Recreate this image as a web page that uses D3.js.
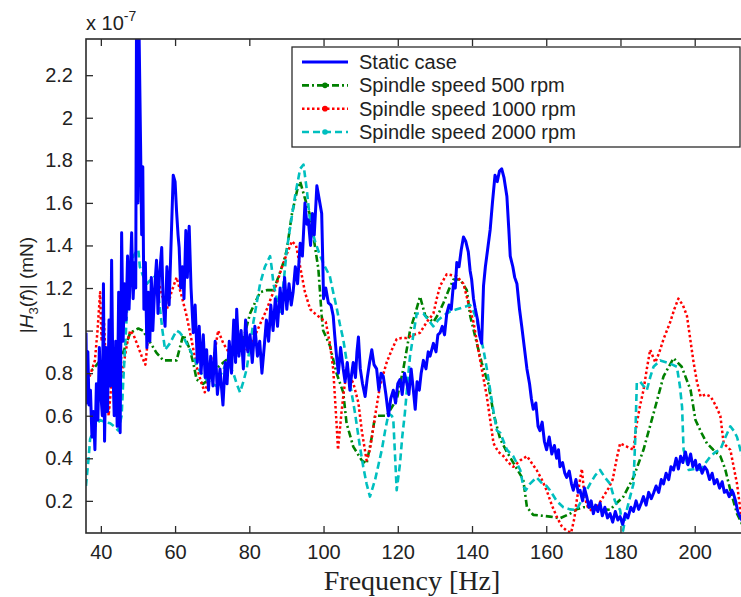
<!DOCTYPE html>
<html>
<head>
<meta charset="utf-8">
<script src="https://cdn.jsdelivr.net/npm/d3@7"></script>
<style>
  body { margin: 0; background: #fff; }
  svg text { font-family: "Liberation Sans", Arial, sans-serif; fill: #222; }
</style>
</head>
<body>
<svg id="chart" width="741" height="597"></svg>
<script>
//----------------------------------------------------------- DATA
// frequency [Hz], |H3(f)| [x 1e-7 m/N]
const freqTicks = [40, 60, 80, 100, 120, 140, 160, 180, 200];
const magTicks = [0.2, 0.4, 0.6, 0.8, 1, 1.2, 1.4, 1.6, 1.8, 2, 2.2];

const seriesNames = ["Static case", "Spindle speed 500 rpm", "Spindle speed 1000 rpm", "Spindle speed 2000 rpm"];

const staticCase = [[36.0,0.99],[36.2,0.66],[36.5,0.90],[36.8,0.65],[37.2,0.72],[37.6,0.50],[38.0,0.62],[38.4,0.44],[38.8,0.75],[39.2,0.58],[39.6,0.92],[40.0,0.70],[40.4,0.60],[40.7,1.22],[41.0,0.48],[41.4,0.92],[41.8,0.62],[42.2,1.05],[42.6,0.74],[42.9,1.33],[43.2,0.85],[43.6,0.60],[44.0,0.95],[44.4,0.55],[44.8,1.18],[45.2,0.52],[45.6,1.46],[46.0,0.95],[46.4,1.22],[46.8,1.05],[47.2,1.35],[47.6,1.10],[48.0,1.30],[48.3,1.46],[48.7,1.15],[49.1,1.32],[49.4,1.20],[49.6,2.40],[50.0,1.60],[50.3,2.40],[50.7,1.88],[51.0,1.45],[51.3,1.77],[51.6,1.10],[52.0,1.32],[52.4,0.92],[52.8,1.18],[53.2,0.95],[53.6,1.25],[54.0,1.00],[54.5,1.20],[55.0,1.33],[55.4,1.08],[55.8,1.26],[56.4,1.39],[56.8,1.12],[57.3,1.02],[57.8,1.30],[58.4,1.12],[59.1,1.51],[59.5,1.73],[60.0,1.70],[60.4,1.56],[60.8,1.45],[61.1,1.39],[61.5,1.20],[62.0,1.30],[62.4,1.15],[62.9,1.47],[63.3,1.25],[63.8,1.49],[64.3,1.20],[64.9,0.99],[65.4,1.12],[66.0,0.85],[66.5,1.02],[67.0,0.80],[67.6,0.98],[68.1,0.78],[68.5,0.91],[69.0,0.72],[69.6,0.88],[70.2,0.74],[70.8,0.95],[71.4,0.70],[72.1,0.82],[72.9,0.65],[73.5,0.85],[74.0,0.75],[74.6,0.95],[75.2,0.80],[75.8,1.05],[76.3,0.85],[76.6,1.10],[77.2,0.88],[77.8,1.00],[78.4,0.82],[79.0,1.05],[79.6,0.90],[80.2,0.98],[80.8,0.85],[81.5,1.02],[82.2,0.88],[82.8,0.95],[83.4,0.80],[84.0,0.92],[84.6,1.05],[85.2,0.95],[85.8,1.12],[86.4,1.00],[87.0,1.15],[87.6,1.02],[88.3,1.20],[88.9,1.08],[89.5,1.25],[90.1,1.10],[90.7,1.22],[91.3,1.12],[91.8,1.18],[92.4,1.30],[93.0,1.22],[93.7,1.41],[94.3,1.35],[95.0,1.60],[95.5,1.50],[95.9,1.52],[96.5,1.40],[97.0,1.55],[97.5,1.45],[98.2,1.68],[98.8,1.62],[99.5,1.55],[99.8,1.32],[100.0,1.15],[100.6,1.20],[101.3,1.13],[102.0,1.12],[102.6,1.07],[103.0,0.98],[103.5,0.88],[104.0,0.80],[104.6,0.92],[105.3,0.82],[105.8,0.76],[106.4,0.85],[107.1,0.72],[107.6,0.80],[108.0,0.85],[108.6,0.78],[109.0,0.90],[109.4,0.97],[109.9,0.82],[110.5,0.75],[111.2,0.69],[111.8,0.78],[112.4,0.85],[113.0,0.91],[113.6,0.84],[114.3,0.82],[114.9,0.72],[115.5,0.80],[116.1,0.785],[116.8,0.70],[117.5,0.60],[118.1,0.68],[118.8,0.72],[119.4,0.66],[120.0,0.75],[120.6,0.77],[121.2,0.70],[121.8,0.80],[122.4,0.755],[123.0,0.70],[123.6,0.82],[124.2,0.72],[124.7,0.63],[125.2,0.76],[125.8,0.72],[126.3,0.80],[126.9,0.86],[127.6,0.82],[128.2,0.90],[128.7,0.88],[129.6,0.94],[130.3,0.90],[130.8,0.98],[131.4,0.99],[132.0,1.02],[132.6,0.98],[133.2,1.08],[133.8,1.12],[134.4,1.10],[135.0,1.22],[135.5,1.20],[135.9,1.32],[136.5,1.30],[137.1,1.38],[137.7,1.44],[138.3,1.42],[139.0,1.37],[139.5,1.28],[139.9,1.24],[140.4,1.15],[140.8,1.11],[141.5,1.05],[142.0,0.98],[142.6,0.94],[143.1,1.21],[143.6,1.30],[144.2,1.38],[144.9,1.475],[145.5,1.60],[146.2,1.73],[146.8,1.70],[147.4,1.75],[148.0,1.76],[148.6,1.72],[149.4,1.63],[149.9,1.48],[150.3,1.35],[151.0,1.30],[151.5,1.25],[152.1,1.22],[152.8,1.10],[153.4,1.02],[154.1,0.92],[154.8,0.82],[155.5,0.75],[156.0,0.68],[156.5,0.63],[157.2,0.66],[157.8,0.55],[158.3,0.53],[158.9,0.57],[159.5,0.48],[160.1,0.44],[160.8,0.50],[161.5,0.42],[162.2,0.46],[162.8,0.40],[163.3,0.44],[163.7,0.36],[164.4,0.38],[165.0,0.33],[165.5,0.31],[166.2,0.34],[166.8,0.28],[167.3,0.25],[168.0,0.30],[168.6,0.24],[169.1,0.25],[169.8,0.20],[170.3,0.26],[170.9,0.22],[171.5,0.17],[172.1,0.20],[172.7,0.14],[173.3,0.18],[173.9,0.15],[174.5,0.19],[175.1,0.13],[175.8,0.17],[176.5,0.12],[177.2,0.14],[177.9,0.10],[178.6,0.15],[179.3,0.11],[179.9,0.126],[180.6,0.09],[181.3,0.14],[182.0,0.12],[182.8,0.17],[183.5,0.15],[184.2,0.20],[184.9,0.16],[185.6,0.19],[186.2,0.22],[186.9,0.18],[187.6,0.24],[188.3,0.21],[188.9,0.236],[189.6,0.27],[190.3,0.24],[191.0,0.30],[191.6,0.28],[192.3,0.33],[193.0,0.30],[193.6,0.36],[194.3,0.345],[195.0,0.40],[195.6,0.35],[196.2,0.41],[196.8,0.38],[197.5,0.43],[198.2,0.37],[198.9,0.42],[199.5,0.36],[200.2,0.39],[200.6,0.345],[201.3,0.37],[202.0,0.33],[202.7,0.36],[203.3,0.345],[204.0,0.30],[204.7,0.33],[205.3,0.28],[206.0,0.30],[206.7,0.26],[207.4,0.29],[208.0,0.24],[208.6,0.25],[209.3,0.22],[210.0,0.25],[210.4,0.236],[211.0,0.20],[211.6,0.15],[212.2,0.126],[213.0,0.10]];

const speed500 = [[36.0,0.78],[36.2,0.80],[38.0,0.82],[39.8,0.86],[41.0,0.83],[42.5,0.84],[44.0,0.82],[45.2,0.86],[46.5,0.92],[47.9,0.99],[49.0,1.00],[50.1,1.01],[51.3,1.00],[52.4,0.97],[53.8,0.93],[55.0,0.895],[56.8,0.86],[58.5,0.86],[60.4,0.86],[61.3,0.92],[62.2,0.98],[63.1,0.95],[64.0,0.91],[65.0,0.84],[65.8,0.77],[67.6,0.75],[69.0,0.77],[70.3,0.80],[71.7,0.83],[73.0,0.85],[74.4,0.87],[75.7,0.88],[77.0,0.92],[78.4,0.96],[79.3,1.02],[80.2,1.08],[81.5,1.13],[82.9,1.18],[84.7,1.19],[86.5,1.19],[87.8,1.25],[89.2,1.32],[90.1,1.38],[91.5,1.55],[92.9,1.66],[93.7,1.70],[95.0,1.62],[96.4,1.54],[97.3,1.44],[98.6,1.29],[99.5,1.07],[99.9,1.00],[101.7,0.93],[103.5,0.80],[105.3,0.71],[106.2,0.565],[108.0,0.455],[110.3,0.39],[111.6,0.375],[113.0,0.50],[113.9,0.60],[115.5,0.60],[117.0,0.60],[118.4,0.64],[119.7,0.675],[121.5,0.82],[123.3,1.00],[124.7,1.08],[126.0,1.16],[127.4,1.07],[129.6,1.04],[131.0,1.08],[132.3,1.13],[133.7,1.19],[135.0,1.24],[136.8,1.24],[138.6,1.19],[139.5,1.07],[141.3,0.94],[142.6,0.85],[144.4,0.75],[145.8,0.61],[147.6,0.49],[149.4,0.43],[151.1,0.38],[153.8,0.30],[154.8,0.17],[156.5,0.134],[159.0,0.13],[161.0,0.126],[163.7,0.118],[166.4,0.14],[168.2,0.16],[170.0,0.17],[172.7,0.17],[175.0,0.16],[177.2,0.158],[179.0,0.19],[180.8,0.22],[183.5,0.31],[186.2,0.44],[188.9,0.61],[191.6,0.785],[194.3,0.87],[196.5,0.83],[198.9,0.72],[200.2,0.58],[201.8,0.52],[203.3,0.47],[205.0,0.44],[206.9,0.41],[208.2,0.35],[209.6,0.25],[211.4,0.14],[212.5,0.10],[213.0,0.08]];

const speed1000 = [[36.0,0.74],[36.2,0.75],[37.3,0.80],[38.4,0.86],[39.1,1.00],[39.8,1.18],[40.2,0.95],[40.7,1.10],[41.2,0.90],[41.6,0.75],[42.1,0.60],[42.7,0.72],[43.4,0.88],[44.3,0.91],[45.0,0.84],[45.6,0.785],[46.5,0.88],[47.2,0.95],[47.9,1.00],[48.8,0.98],[49.7,0.94],[51.0,0.88],[52.0,0.84],[52.8,0.98],[53.7,1.13],[54.6,1.18],[55.5,1.23],[56.6,1.16],[57.8,1.10],[59.0,1.18],[60.4,1.25],[61.8,1.16],[63.1,1.07],[64.5,0.95],[65.8,0.83],[67.0,0.76],[68.0,0.71],[69.2,0.78],[70.3,0.86],[71.6,1.00],[73.0,0.94],[74.4,0.90],[75.7,0.88],[77.0,0.90],[78.4,0.895],[79.8,0.92],[81.1,0.96],[82.9,1.03],[84.7,1.10],[86.0,1.16],[87.4,1.22],[88.8,1.30],[90.1,1.36],[91.5,1.42],[92.6,1.40],[93.7,1.30],[95.0,1.18],[96.4,1.10],[97.7,1.08],[99.1,1.06],[100.6,1.04],[101.7,0.94],[102.6,0.82],[103.2,0.65],[103.5,0.565],[103.9,0.44],[104.8,0.61],[105.5,0.72],[106.2,0.80],[107.1,0.78],[108.0,0.755],[109.4,0.66],[110.3,0.53],[111.6,0.39],[112.5,0.44],[113.9,0.60],[115.2,0.74],[117.0,0.85],[118.4,0.91],[119.7,0.96],[121.0,0.965],[122.4,0.965],[124.2,0.98],[126.0,0.99],[127.8,1.04],[129.6,1.08],[130.5,1.15],[131.4,1.21],[133.2,1.265],[134.6,1.26],[135.9,1.255],[137.7,1.22],[139.0,1.13],[140.4,1.04],[141.3,0.95],[142.2,0.86],[144.0,0.69],[145.8,0.47],[147.1,0.43],[148.5,0.41],[149.8,0.38],[151.1,0.36],[153.0,0.39],[154.8,0.41],[156.0,0.38],[157.4,0.345],[158.8,0.30],[160.1,0.25],[161.5,0.18],[162.8,0.126],[164.2,0.08],[165.5,0.06],[166.7,0.05],[167.6,0.12],[168.2,0.20],[169.1,0.30],[169.6,0.35],[170.3,0.22],[171.2,0.17],[172.5,0.15],[174.0,0.18],[175.4,0.22],[176.8,0.26],[177.9,0.30],[179.0,0.40],[179.9,0.47],[181.7,0.455],[183.5,0.44],[184.4,0.565],[185.3,0.65],[186.2,0.72],[187.1,0.82],[188.0,0.91],[189.4,0.85],[190.5,0.90],[191.6,0.96],[193.4,1.04],[194.5,1.10],[195.6,1.15],[196.8,1.12],[197.9,1.07],[198.8,0.96],[199.7,0.85],[200.6,0.76],[201.6,0.69],[203.0,0.70],[204.3,0.69],[205.6,0.65],[206.9,0.60],[207.8,0.47],[209.6,0.44],[210.5,0.36],[211.4,0.28],[212.3,0.16],[213.0,0.10]];

const speed2000 = [[36.0,0.27],[36.2,0.31],[36.7,0.40],[37.1,0.49],[38.4,0.55],[39.8,0.58],[41.1,0.57],[42.5,0.565],[43.6,0.55],[44.7,0.53],[45.6,0.60],[46.0,0.75],[46.5,0.91],[47.0,1.08],[47.4,1.22],[48.1,1.30],[48.8,1.35],[49.5,1.37],[50.1,1.38],[50.5,1.30],[51.3,1.26],[52.4,1.22],[53.5,1.24],[54.6,1.255],[55.3,1.20],[55.9,1.11],[56.6,1.00],[57.3,0.91],[58.6,0.94],[59.5,0.97],[60.4,1.00],[61.3,0.99],[62.2,0.97],[63.1,0.94],[64.0,0.91],[65.1,0.87],[66.3,0.82],[67.4,0.79],[68.5,0.77],[69.8,0.75],[71.2,0.74],[72.5,0.80],[73.9,0.85],[74.8,0.83],[75.7,0.80],[76.6,0.75],[77.5,0.71],[78.4,0.76],[79.3,0.82],[80.2,0.93],[81.1,1.04],[82.0,1.13],[82.9,1.22],[84.2,1.30],[85.6,1.35],[86.0,1.30],[86.5,1.22],[87.4,1.15],[88.3,1.08],[89.2,1.22],[90.1,1.38],[91.3,1.52],[92.5,1.65],[93.7,1.76],[94.6,1.78],[95.5,1.66],[96.4,1.51],[97.7,1.42],[99.1,1.35],[100.4,1.30],[101.7,1.255],[102.6,1.18],[103.5,1.11],[104.4,1.03],[105.3,0.96],[106.2,0.86],[107.1,0.755],[108.5,0.61],[109.8,0.455],[110.7,0.36],[111.6,0.28],[112.5,0.22],[113.2,0.26],[113.9,0.30],[114.8,0.37],[115.7,0.44],[116.6,0.53],[117.5,0.61],[118.4,0.60],[118.8,0.58],[119.3,0.40],[119.7,0.25],[120.6,0.375],[121.2,0.50],[121.9,0.61],[122.6,0.75],[123.3,0.88],[124.2,0.98],[125.1,1.08],[126.9,1.08],[128.2,1.05],[129.6,1.02],[130.9,1.05],[132.3,1.07],[134.1,1.09],[135.9,1.10],[137.7,1.11],[139.5,1.12],[140.4,1.09],[141.3,1.05],[142.2,0.98],[143.1,0.91],[144.0,0.82],[144.9,0.72],[145.8,0.62],[146.7,0.53],[147.6,0.52],[149.4,0.44],[151.1,0.41],[153.0,0.345],[153.8,0.27],[154.5,0.25],[155.6,0.28],[157.4,0.31],[159.0,0.28],[160.1,0.27],[161.0,0.25],[162.8,0.20],[164.6,0.17],[166.4,0.16],[168.2,0.157],[170.0,0.22],[171.8,0.28],[173.2,0.32],[174.5,0.345],[175.8,0.31],[177.2,0.28],[178.5,0.20],[179.9,0.157],[180.7,0.06],[181.6,0.15],[182.6,0.22],[183.5,0.28],[184.0,0.50],[184.4,0.755],[185.3,0.76],[186.2,0.74],[187.1,0.72],[188.0,0.78],[188.9,0.83],[190.7,0.86],[192.5,0.85],[194.0,0.84],[195.2,0.83],[196.0,0.74],[196.6,0.64],[197.0,0.44],[198.4,0.345],[200.0,0.35],[201.6,0.345],[203.0,0.38],[204.3,0.41],[205.6,0.43],[206.9,0.44],[208.3,0.50],[209.6,0.55],[210.5,0.53],[211.4,0.50],[212.3,0.44],[213.0,0.40]];

const seriesData = [staticCase, speed500, speed1000, speed2000];

//----------------------------------------------------------- STYLES
const seriesStyle = [
	{color: "#0000ff", width: 3, dash: null, marker: false},
	{color: "#008000", width: 2.6, dash: "7,3,2,3", marker: true},
	{color: "#ff0000", width: 2.5, dash: "2.5,2.5", marker: true},
	{color: "#00bfbf", width: 2.6, dash: "7,4", marker: true}
];

//----------------------------------------------------------- LAYOUT
const svg = d3.select("#chart");
const plot = {left: 86, top: 39, right: 745, bottom: 533};

const x = d3.scaleLinear().domain([36, 213.55]).range([plot.left, plot.right]);
const y = d3.scaleLinear().domain([0.049, 2.37]).range([plot.bottom, plot.top]);

svg.append("defs").append("clipPath").attr("id", "clip")
	.append("rect")
	.attr("x", plot.left).attr("y", plot.top)
	.attr("width", plot.right - plot.left).attr("height", plot.bottom - plot.top);

//----------------------------------------------------------- LINES
const line = d3.line().x(d => x(d[0])).y(d => y(d[1]));

const lines = svg.append("g").attr("clip-path", "url(#clip)");
// draw the dashed series first, static case on top of them
[1, 2, 3, 0].forEach(function(i) {
	lines.append("path")
		.datum(seriesData[i])
		.attr("d", line)
		.attr("fill", "none")
		.attr("stroke", seriesStyle[i].color)
		.attr("stroke-width", seriesStyle[i].width)
		.attr("stroke-dasharray", seriesStyle[i].dash)
		.attr("stroke-linejoin", "round");
});

//----------------------------------------------------------- AXES
const axisColor = "#2b2b2b";

function styleAxis(g) {
	g.select(".domain").remove();
	g.selectAll(".tick line").attr("stroke", axisColor).attr("stroke-width", 1.3);
	g.selectAll(".tick text").attr("font-size", 20).attr("fill", "#222");
}

svg.append("g")
	.attr("transform", "translate(0," + plot.bottom + ")")
	.call(d3.axisBottom(x).tickValues(freqTicks).tickSize(-7).tickPadding(12).tickFormat(d3.format("d")))
	.call(styleAxis)
	.selectAll(".tick text").attr("dy", "0.71em");

svg.append("g")
	.attr("transform", "translate(0," + plot.top + ")")
	.call(d3.axisTop(x).tickValues(freqTicks).tickSize(-7).tickFormat(""))
	.call(styleAxis);

svg.append("g")
	.attr("transform", "translate(" + plot.left + ",0)")
	.call(d3.axisLeft(y).tickValues(magTicks).tickSize(-7).tickPadding(13).tickFormat(d => d3.format("")(+d.toFixed(1))))
	.call(styleAxis);

// box
svg.append("rect")
	.attr("x", plot.left).attr("y", plot.top)
	.attr("width", plot.right - plot.left).attr("height", plot.bottom - plot.top)
	.attr("fill", "none").attr("stroke", axisColor).attr("stroke-width", 1.6);

// exponent label
const expo = svg.append("text").attr("x", 86).attr("y", 30).attr("font-size", 20);
expo.append("tspan").text("x 10");
expo.append("tspan").attr("font-size", 14).attr("dy", -9).text("-7");

// axis titles
svg.append("text")
	.attr("x", 412).attr("y", 590)
	.attr("text-anchor", "middle")
	.style("font-family", "'Liberation Serif', 'Times New Roman', serif")
	.attr("font-size", 28)
	.text("Frequency [Hz]");

const ylab = svg.append("text")
	.attr("transform", "translate(33,285) rotate(-90)")
	.attr("text-anchor", "middle")
	.attr("font-size", 19);
ylab.append("tspan").text("|");
ylab.append("tspan").attr("font-style", "italic").text("H");
ylab.append("tspan").attr("font-size", 13).attr("dy", 5).text("3");
ylab.append("tspan").attr("dy", -5).text("(");
ylab.append("tspan").attr("font-style", "italic").text("f");
ylab.append("tspan").text(")| (mN)");

//----------------------------------------------------------- LEGEND
const legend = svg.append("g");
legend.append("rect")
	.attr("x", 292).attr("y", 47).attr("width", 448).attr("height", 100)
	.attr("fill", "#fff").attr("stroke", axisColor).attr("stroke-width", 1.3);

const rowY = d3.scalePoint().domain(d3.range(seriesNames.length)).range([62, 132]);

seriesNames.forEach(function(name, i) {
	const s = seriesStyle[i];
	legend.append("line")
		.attr("x1", 302).attr("x2", 348)
		.attr("y1", rowY(i)).attr("y2", rowY(i))
		.attr("stroke", s.color).attr("stroke-width", s.width)
		.attr("stroke-dasharray", s.dash);
	if (s.marker) {
		legend.append("circle")
			.attr("cx", 325).attr("cy", rowY(i)).attr("r", 2.8)
			.attr("fill", s.color);
	}
	legend.append("text")
		.attr("x", 359).attr("y", rowY(i) + 7)
		.attr("font-size", 20)
		.text(name);
});
</script>
</body>
</html>
